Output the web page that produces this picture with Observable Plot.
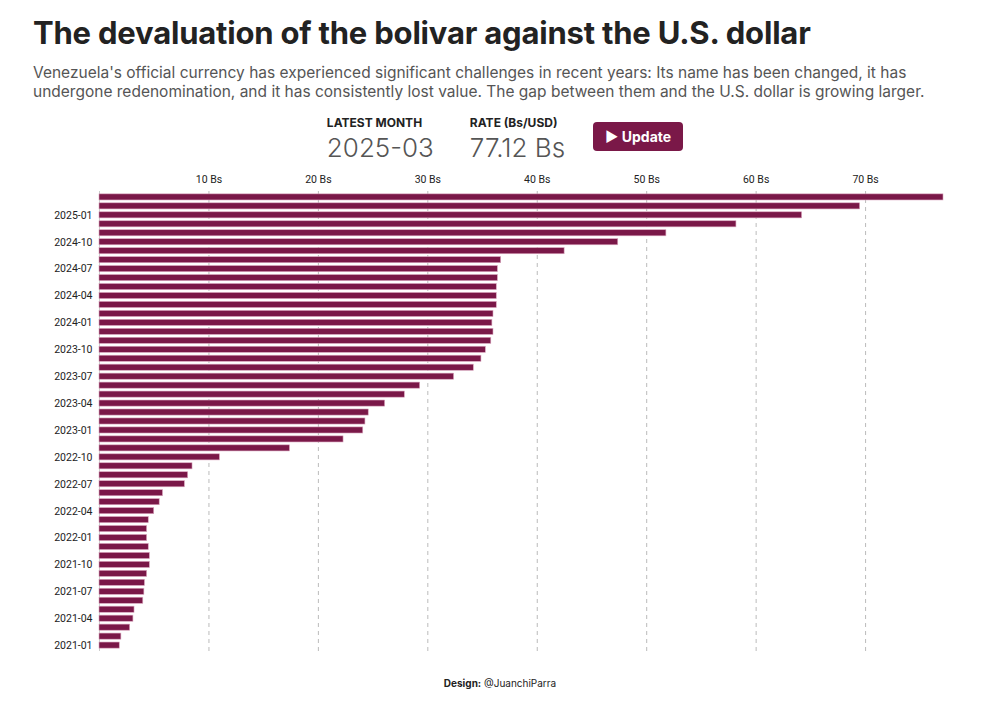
<!DOCTYPE html>
<html>
<head>
<meta charset="utf-8">
<script src="https://cdn.jsdelivr.net/npm/d3@7"></script>
<script src="https://cdn.jsdelivr.net/npm/@observablehq/plot@0.6"></script>
<style>
  body { margin: 0; font-family: Inter, "Noto Sans", sans-serif; background: #fff; color: #222; }
  h1 { font-size: 31px; font-weight: 700; margin: 14px 0 0 33px; letter-spacing: -0.2px; }
  .sub { font-size: 15.5px; color: #555; margin: 12px 0 0 33px; line-height: 19px; width: 940px; }
  .stats { display: flex; justify-content: center; gap: 36px; margin-top: 14px; margin-left: 10px; align-items: flex-start; }
  .stat .lab { font-size: 12px; font-weight: 700; color: #222; }
  .stat .val { font-size: 26px; font-weight: 300; color: #555; margin-top: 2px; }
  .btn { background: #7a1848; color: #fff; font-weight: 700; font-size: 14px; padding: 6px 12px; border-radius: 4px; margin-top: 7px; margin-left: -8px; }
  #chart { margin-top: 6px; }
  .foot { text-align: center; font-size: 10px; color: #222; margin-top: 18px; }
</style>
</head>
<body>
<h1>The devaluation of the bolivar against the U.S. dollar</h1>
<div class="sub">Venezuela's official currency has experienced significant challenges in recent years: Its name has been changed, it has undergone redenomination, and it has consistently lost value. The gap between them and the U.S. dollar is growing larger.</div>
<div class="stats">
  <div class="stat"><div class="lab">LATEST MONTH</div><div class="val">2025-03</div></div>
  <div class="stat"><div class="lab">RATE (Bs/USD)</div><div class="val">77.12 Bs</div></div>
  <div class="btn">▶ Update</div>
</div>
<div id="chart"></div>
<div class="foot"><b>Design:</b> @JuanchiParra</div>
<script>
// months from 2021-01 to 2025-03
const months = [];
for (let y = 2021; y <= 2025; y++) {
  for (let m = 1; m <= 12; m++) {
    if (y === 2025 && m > 3) break;
    months.push(`${y}-${String(m).padStart(2, "0")}`);
  }
}

const rates = [
  1.85, 2.0, 2.8, 3.1, 3.2, 4.0, 4.1, 4.15, 4.35, 4.6, 4.6, 4.5,      // 2021
  4.35, 4.35, 4.5, 5.0, 5.5, 5.8, 7.8, 8.1, 8.5, 11.0, 17.4, 22.3,    // 2022
  24.1, 24.3, 24.6, 26.1, 27.9, 29.3, 32.4, 34.2, 34.9, 35.3, 35.8, 36.0, // 2023
  35.9, 36.0, 36.3, 36.3, 36.3, 36.4, 36.4, 36.7, 42.5, 47.4, 51.8, 58.2, // 2024
  64.2, 69.5, 77.12                                                    // 2025
];

const xTicks = [10, 20, 30, 40, 50, 60, 70];

const data = months.map((month, i) => ({ month, rate: rates[i] }));

const chart = Plot.plot({
  width: 1000,
  height: 490,
  marginLeft: 99,
  marginRight: 57,
  marginTop: 22,
  marginBottom: 8,
  style: { fontFamily: "Roboto, sans-serif", fontSize: "10.5px", color: "#222" },
  x: { domain: [0, 77.12], axis: "top", ticks: xTicks, tickFormat: (d) => `${d} Bs`, tickSize: 0, label: null },
  y: {
    domain: months.slice().reverse(),
    padding: 0.32,
    tickSize: 0,
    tickPadding: 7,
    label: null,
    ticks: months.filter((m) => ["01", "04", "07", "10"].includes(m.slice(5)))
  },
  marks: [
    Plot.gridX(xTicks, { stroke: "#bbb", strokeDasharray: "4,4", strokeOpacity: 1 }),
    Plot.ruleX([0], { stroke: "#ccc" }),
    Plot.barX(data, { x: "rate", y: "month", fill: "#7a1848", stroke: "#d9a5bd", strokeWidth: 0.6 })
  ]
});

document.getElementById("chart").appendChild(chart);
</script>
</body>
</html>
